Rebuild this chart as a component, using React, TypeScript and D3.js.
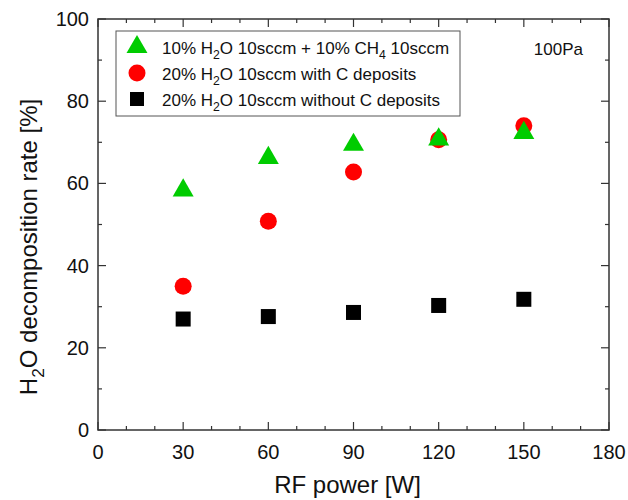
import React from "react";
import * as d3 from "d3";

const powers = [30, 60, 90, 120, 150];
const withCH4 = [58.3, 66.2, 69.4, 70.7, 72.3];
const withC = [35.0, 50.8, 62.8, 70.6, 74.0];
const withoutC = [27.0, 27.6, 28.6, 30.3, 31.8];
const xTicks = [0, 30, 60, 90, 120, 150, 180];
const yTicks = [0, 20, 40, 60, 80, 100];

const W = 628, H = 500;
const m = { left: 98, right: 609, top: 19, bottom: 430 };
const FONT = "'Liberation Sans', Arial, sans-serif";

export default function App() {
  const x = d3.scaleLinear().domain([0, 180]).range([m.left, m.right]);
  const y = d3.scaleLinear().domain([0, 100]).range([m.bottom, m.top]);
  const xMinor = d3.range(0, 181, 10);
  const yMinor = d3.range(0, 101, 10);
  const tri = d3.symbol().type(d3.symbolTriangle).size(190)();
  const axisColor = "#333";
  const textColor = "#111";

  const sub = (t: string, fs: number) => (
    <>
      <tspan dy={fs * 0.3} fontSize={fs * 0.72}>{t}</tspan>
    </>
  );

  return (
    <svg width={W} height={H} style={{ position: "absolute", left: 0, top: 0, background: "#fff" }} fontFamily={FONT}>
      <rect x={0} y={0} width={W} height={H} fill="#fff" />
      {xMinor.map((v) => {
        const major = v % 30 === 0;
        const len = major ? 8 : 4;
        return (
          <g key={"xm" + v} stroke={axisColor} strokeWidth={1.2}>
            <line x1={x(v)} x2={x(v)} y1={m.bottom} y2={m.bottom - len} />
            <line x1={x(v)} x2={x(v)} y1={m.top} y2={m.top + len} />
          </g>
        );
      })}
      {yMinor.map((v) => {
        const major = v % 20 === 0;
        const len = major ? 8 : 4;
        return (
          <g key={"ym" + v} stroke={axisColor} strokeWidth={1.2}>
            <line x1={m.left} x2={m.left + len} y1={y(v)} y2={y(v)} />
            <line x1={m.right} x2={m.right - len} y1={y(v)} y2={y(v)} />
          </g>
        );
      })}
      <rect x={m.left} y={m.top} width={m.right - m.left} height={m.bottom - m.top} fill="none" stroke={axisColor} strokeWidth={1.5} />

      {xTicks.map((v) => (
        <text key={"xt" + v} x={x(v)} y={m.bottom + 29} textAnchor="middle" fontSize={20} fill={textColor}>{v}</text>
      ))}
      {yTicks.map((v) => (
        <text key={"yt" + v} x={m.left - 9} y={y(v) + 7} textAnchor="end" fontSize={20} fill={textColor}>{v}</text>
      ))}

      <text x={(m.left + m.right) / 2 - 6} y={493} textAnchor="middle" fontSize={24} fill={textColor}>RF power [W]</text>
      <text transform={`translate(37, 247) rotate(-90)`} textAnchor="middle" fontSize={24} fill={textColor}>
        H{sub("2", 24)}<tspan dy={-24 * 0.3}>O decomposition rate [%]</tspan>
      </text>

      {powers.map((p, i) => (
        <rect key={"s" + i} x={x(p) - 7.5} y={y(withoutC[i]) - 7.5} width={15} height={15} fill="#000" />
      ))}
      {powers.map((p, i) => (
        <circle key={"c" + i} cx={x(p)} cy={y(withC[i])} r={8.5} fill="#ff0000" />
      ))}
      {powers.map((p, i) => (
        <path key={"t" + i} d={tri} transform={`translate(${x(p)}, ${y(withCH4[i])})`} fill="#00cc00" />
      ))}

      <rect x={116} y={31} width={344} height={85} fill="#fff" stroke="#555" strokeWidth={1} />
      <path d={tri} transform="translate(137, 47)" fill="#00cc00" />
      <circle cx={137} cy={73} r={8.5} fill="#ff0000" />
      <rect x={130} y={92} width={14} height={14} fill="#000" />
      <g fontSize={17} fill={textColor}>
        <text x={162} y={54}>10% H{sub("2", 17)}<tspan dy={-17 * 0.3}>O 10sccm + 10% CH</tspan>{sub("4", 17)}<tspan dy={-17 * 0.3}> 10sccm</tspan></text>
        <text x={162} y={80}>20% H{sub("2", 17)}<tspan dy={-17 * 0.3}>O 10sccm with C deposits</tspan></text>
        <text x={162} y={106}>20% H{sub("2", 17)}<tspan dy={-17 * 0.3}>O 10sccm without C deposits</tspan></text>
      </g>
      <text x={583} y={55} textAnchor="end" fontSize={17} fill={textColor}>100Pa</text>
    </svg>
  );
}
